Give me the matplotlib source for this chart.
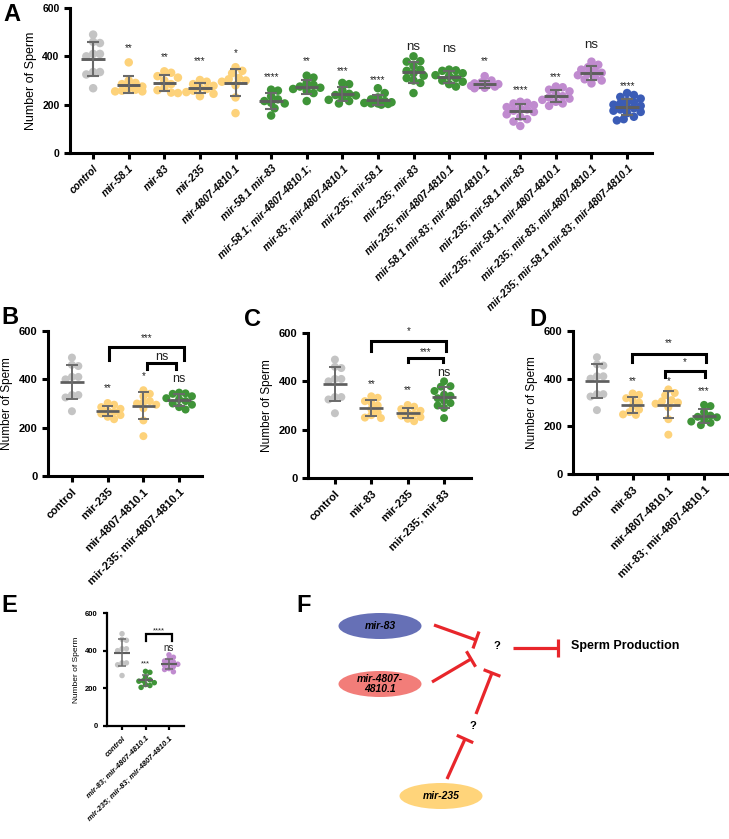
import numpy as np
import matplotlib
matplotlib.use('Agg')
import matplotlib.pyplot as plt
from matplotlib.patches import Ellipse

plt.rcParams['font.family'] = ['Liberation Sans', 'DejaVu Sans']

# sperm counts per genotype
control = [490, 460, 455, 410, 410, 400, 335, 335, 325, 268]
mir58 = [375, 300, 290, 285, 275, 268, 262, 258, 255, 255]
mir83 = [338, 332, 318, 312, 300, 285, 270, 260, 250, 248]
mir235 = [302, 295, 285, 278, 270, 265, 258, 252, 245, 235]
mir4807 = [355, 340, 330, 310, 305, 300, 295, 280, 230, 165]
m58_83 = [262, 258, 235, 222, 215, 208, 205, 185, 155]
m58_4807 = [320, 312, 290, 282, 275, 270, 265, 258, 248, 215]
m83_4807 = [290, 285, 260, 245, 240, 238, 230, 220, 215, 205]
m235_58 = [268, 248, 230, 222, 215, 210, 207, 205, 203, 200, 205]
m235_83 = [400, 380, 378, 360, 345, 340, 330, 320, 310, 300, 290, 248]
m235_4807 = [345, 342, 340, 330, 322, 318, 310, 300, 295, 285, 275]
m58_83_4807 = [318, 300, 292, 288, 285, 282, 280, 278, 275, 270, 268]
m235_58_83 = [212, 208, 205, 198, 190, 185, 180, 175, 170, 160, 150, 140, 130, 112]
m235_58_4807 = [275, 272, 262, 255, 245, 235, 230, 225, 220, 212, 205, 195]
m235_83_4807 = [378, 365, 355, 345, 340, 332, 328, 322, 315, 305, 300, 288]
m235_58_83_4807 = [248, 240, 232, 225, 215, 210, 205, 200, 195, 190, 185, 180,
                   175, 170, 165, 150, 140, 135]

GRAY, YEL, GRN, PUR, BLU = '#c4c4c4', '#fdd27a', '#3f9438', '#c08bcf', '#3b5cb6'

labels_a = ['control', 'mir-58.1', 'mir-83', 'mir-235', 'mir-4807-4810.1',
            'mir-58.1 mir-83', 'mir-58.1; mir-4807-4810.1;', 'mir-83; mir-4807-4810.1',
            'mir-235; mir-58.1', 'mir-235; mir-83', 'mir-235; mir-4807-4810.1',
            'mir-58.1 mir-83; mir-4807-4810.1', 'mir-235; mir-58.1 mir-83',
            'mir-235; mir-58.1; mir-4807-4810.1', 'mir-235; mir-83; mir-4807-4810.1',
            'mir-235; mir-58.1 mir-83; mir-4807-4810.1']
data_a = [control, mir58, mir83, mir235, mir4807, m58_83, m58_4807, m83_4807,
          m235_58, m235_83, m235_4807, m58_83_4807, m235_58_83, m235_58_4807,
          m235_83_4807, m235_58_83_4807]
colors_a = [GRAY] + [YEL]*4 + [GRN]*6 + [PUR]*4 + [BLU]
sig_a = ['', '**', '**', '***', '*', '****', '**', '***', '****', 'ns', 'ns', '**',
         '****', '***', 'ns', '****']
sig_a_y = [0, 433, 396, 382, 415, 313, 382, 341, 302, 440, 429, 382, 261, 316, 447, 277]

W, H = 729, 839
fig = plt.figure(figsize=(7.29, 8.39), dpi=100)


def px_axes(l, t, r, b):
    return fig.add_axes([l / W, 1 - b / H, (r - l) / W, (b - t) / H])


def swarm(vals, ypu, d, spread=1.6):
    # compact beeswarm in pixels; points may overlap a little like Prism
    vals = np.asarray(vals, float)
    ys = vals * ypu
    xs = np.zeros(len(vals))
    done = []
    cands = [0.0] + [s * k * d * 0.4 for k in range(1, 10) for s in (1, -1)]
    cands = [c for c in cands if abs(c) <= spread * d]
    for i in np.argsort(-vals):
        best, bestd = 0.0, -1
        for c in cands:
            md = min([np.hypot(c - xs[j], ys[i] - ys[j]) for j in done] + [99])
            if md >= 0.75 * d:
                best = c
                break
            if md > bestd:
                best, bestd = c, md
        xs[i] = best
        done.append(i)
    return xs


def dot_panel(ax, groups, cols, labels, cat_px, ypu, dpx, fs, lwm, italic=True, lw_ax=2.2):
    for i, (v, c) in enumerate(zip(groups, cols)):
        v = np.asarray(v, float)
        off = swarm(v, ypu, dpx) / cat_px
        ax.scatter(i + off, v, s=(dpx * 0.72) ** 2, color=c, edgecolors='none', zorder=2)
        m, sd = v.mean(), v.std(ddof=1)
        ax.hlines(m, i - 0.33, i + 0.33, color='#5e5e5e', lw=lwm * 1.4, zorder=3)
        ax.vlines(i, m - sd, m + sd, color='#6a6a6a', lw=lwm, zorder=3)
        ax.hlines([m - sd, m + sd], i - 0.16, i + 0.16, color='#6a6a6a', lw=lwm, zorder=3)
    ax.set_ylim(0, 600)
    ax.set_yticks([0, 200, 400, 600])
    ax.set_xticks(range(len(groups)))
    ax.set_xticklabels(labels, rotation=45, ha='right', rotation_mode='anchor',
                       fontweight='bold', fontstyle='italic' if italic else 'normal',
                       fontsize=fs)
    for s in ['top', 'right']:
        ax.spines[s].set_visible(False)
    for s in ['left', 'bottom']:
        ax.spines[s].set_linewidth(lw_ax)
    ax.tick_params(width=lw_ax, length=4, labelsize=fs)
    for t in ax.get_yticklabels():
        t.set_fontweight('bold')
    ax.patch.set_alpha(0)


def bracket(ax, x1, x2, top, low, txt, ty, fs, lw=2.2):
    ax.plot([x1, x1, x2, x2], [low, top, top, low], color='black', lw=lw,
            clip_on=False, solid_joinstyle='miter')
    ax.text((x1 + x2) / 2, ty, txt, ha='center', va='center', fontsize=fs,
            color='#222222', clip_on=False)


def sig(ax, i, y, txt, fs_star, fs_ns):
    ax.text(i, y, txt, ha='center', va='center', color='#222222',
            fontsize=fs_ns if txt == 'ns' else fs_star)


# ---- panel A
axA = px_axes(70, 8, 652, 153)
dot_panel(axA, data_a, colors_a, labels_a, 35.6, 0.2417, 8.5, 7.5, 1.5)
axA.set_xlim(-0.65, 15.7)
axA.set_ylabel('Number of Sperm', fontsize=9)
for i, (t, y) in enumerate(zip(sig_a, sig_a_y)):
    if t:
        sig(axA, i, y, t, 7, 9.5)

# ---- panel B
axB = px_axes(48, 331, 202, 476)
dot_panel(axB, [control, mir235, mir4807, m235_4807], [GRAY, YEL, YEL, GRN],
          ['control', 'mir-235', 'mir-4807-4810.1', 'mir-235; mir-4807-4810.1'],
          35.7, 0.2417, 8, 8, 1.4, italic=False)
axB.set_xlim(-0.67, 3.64)
axB.set_ylabel('Number of Sperm', fontsize=8.5)
for i, t, y in [(1, '**', 363), (2, '*', 412), (3, 'ns', 400)]:
    sig(axB, i, y, t, 7, 9)
bracket(axB, 1.05, 3.13, 534, 480, '***', 571, 7)
bracket(axB, 2.1, 2.92, 467, 443, 'ns', 494, 9)

# ---- panel C
axC = px_axes(308, 333, 471, 478)
dot_panel(axC, [control, mir83, mir235, m235_83], [GRAY, YEL, YEL, GRN],
          ['control', 'mir-83', 'mir-235', 'mir-235; mir-83'],
          36.4, 0.242, 8, 8, 1.4, italic=False)
axC.set_xlim(-0.74, 3.74)
axC.set_ylabel('Number of Sperm', fontsize=8.5)
for i, t, y in [(1, '**', 387), (2, '**', 362), (3, 'ns', 433)]:
    sig(axC, i, y, t, 7, 9)
bracket(axC, 1.0, 3.05, 568, 527, '*', 606, 7)
bracket(axC, 2.0, 2.97, 498, 478, '***', 520, 7)

# ---- panel D
axD = px_axes(573, 331, 728, 474)
dot_panel(axD, [control, mir83, mir4807, m83_4807], [GRAY, YEL, YEL, GRN],
          ['control', 'mir-83', 'mir-4807-4810.1', 'mir-83; mir-4807-4810.1'],
          35.7, 0.238, 8, 8, 1.4, italic=False)
axD.set_xlim(-0.67, 3.67)
axD.set_ylabel('Number of Sperm', fontsize=8.5)
for i, t, y in [(1, '**', 391), (2, '*', 391), (3, '***', 349)]:
    sig(axD, i, y, t, 7, 9)
bracket(axD, 0.98, 3.06, 504, 471, '**', 548, 7)
bracket(axD, 1.9, 3.02, 433, 408, '*', 470, 7)

# ---- panel E
axE = px_axes(107, 613, 184, 726)
dot_panel(axE, [control, m83_4807, m235_83_4807], [GRAY, GRN, PUR],
          ['control', 'mir-83; mir-4807-4810.1', 'mir-235; mir-83; mir-4807-4810.1'],
          23.5, 0.188, 5.5, 5.5, 1.1, lw_ax=1.6)
axE.set_xlim(-0.64, 2.64)
axE.tick_params(length=3)
axE.set_ylabel('Number of Sperm', fontsize=6)
sig(axE, 1, 330, '***', 5.5, 7)
sig(axE, 2, 415, 'ns', 5.5, 7)
bracket(axE, 1.02, 2.13, 489, 452, '****', 507, 5.5, lw=1.6)

# ---- panel letters
for t, x, y in [('A', 3, 3), ('B', 1, 306), ('C', 244, 308), ('D', 529, 308),
                ('E', 1, 594), ('F', 296, 594)]:
    fig.text(x / W, 1 - y / H, t, fontsize=17, fontweight='bold', va='top', ha='left')

# ---- panel F diagram (pixel coordinates overlay)
axF = fig.add_axes([0, 0, 1, 1])
axF.set_xlim(0, W)
axF.set_ylim(H, 0)
axF.axis('off')
axF.patch.set_alpha(0)

ells = [((380, 626), '#6670b6', 'mir-83'),
        ((380, 684), '#f27d79', 'mir-4807-\n4810.1'),
        ((441, 796), '#ffd47a', 'mir-235')]
for (cx, cy), col, txt in ells:
    axF.add_patch(Ellipse((cx, cy), 83, 26, color=col, lw=0))
    axF.text(cx, cy, txt, ha='center', va='center', fontsize=7.5,
             fontweight='bold', fontstyle='italic', linespacing=1.1)

RED = '#e8262b'


def inhibit(x0, y0, x1, y1, half=9):
    axF.plot([x0, x1], [y0, y1], color=RED, lw=2.3, solid_capstyle='butt')
    d = np.array([x1 - x0, y1 - y0], float)
    d /= np.hypot(*d)
    p = np.array([-d[1], d[0]]) * half
    axF.plot([x1 - p[0], x1 + p[0]], [y1 - p[1], y1 + p[1]], color=RED, lw=2.3,
             solid_capstyle='butt')


inhibit(434, 625, 476, 640)
inhibit(432, 682, 471, 659)
inhibit(476, 714, 492, 673)
inhibit(447, 779, 465, 739)
inhibit(513, 648, 558, 648)
axF.text(497, 646, '?', ha='center', va='center', fontsize=8, fontweight='bold')
axF.text(473, 726, '?', ha='center', va='center', fontsize=8, fontweight='bold')
axF.text(571, 646, 'Sperm Production', ha='left', va='center', fontsize=9,
         fontweight='bold')

fig.savefig('out.png', dpi=100)
